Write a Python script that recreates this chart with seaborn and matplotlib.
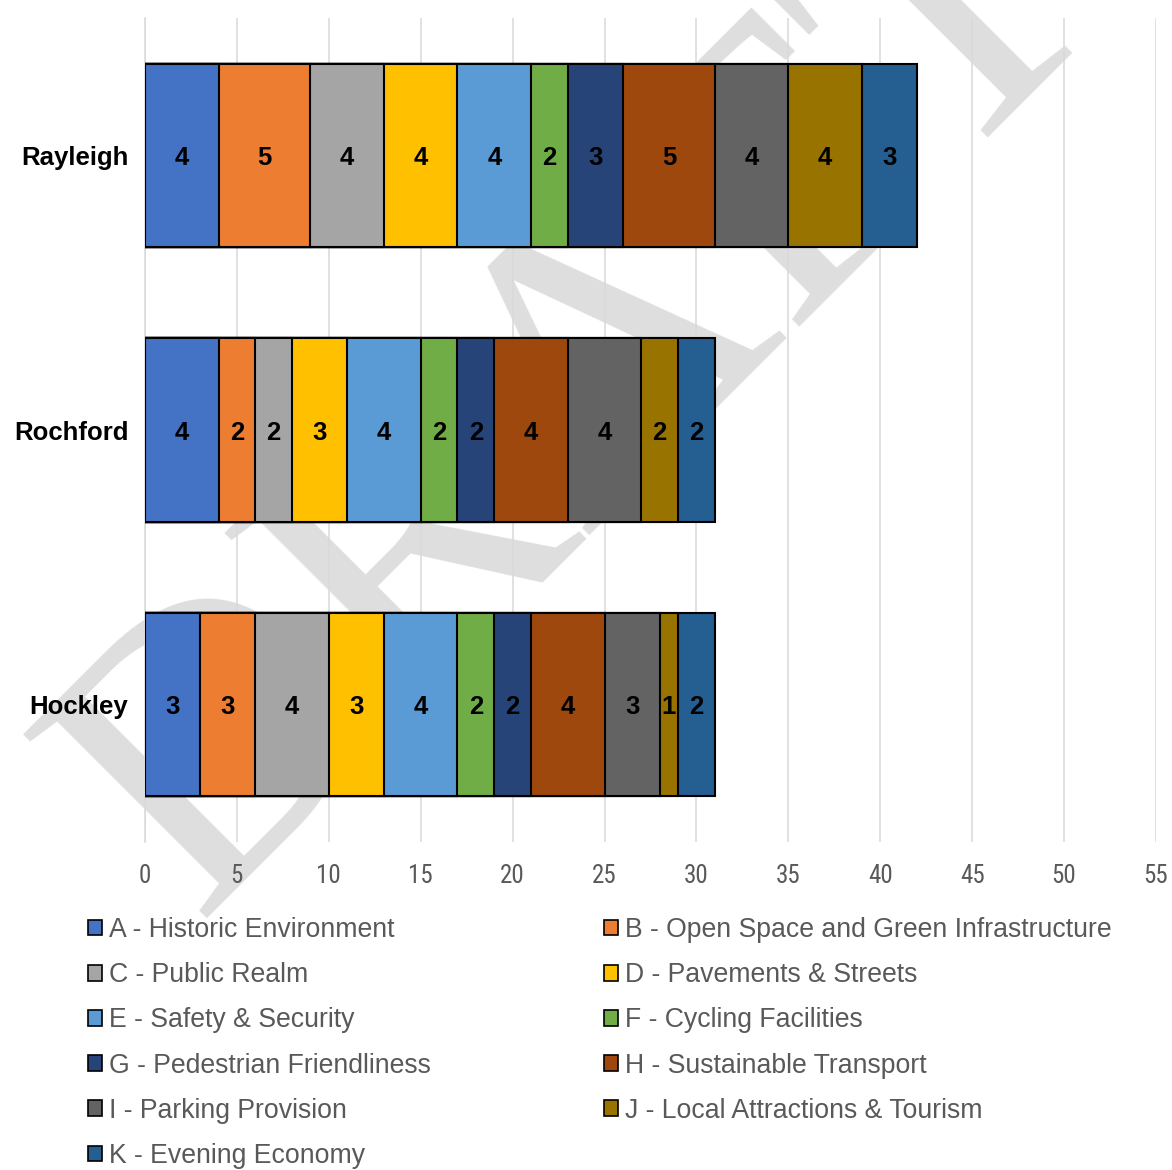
import matplotlib
matplotlib.use("Agg")
import matplotlib.pyplot as plt
import seaborn as sns
import pandas as pd
from matplotlib.patches import Patch
from matplotlib import font_manager

# Scores per town for each improvement theme
towns = ["Rayleigh", "Rochford", "Hockley"]
themes = [
    "A - Historic Environment",
    "B - Open Space and Green Infrastructure",
    "C - Public Realm",
    "D - Pavements & Streets",
    "E - Safety & Security",
    "F - Cycling Facilities",
    "G - Pedestrian Friendliness",
    "H - Sustainable Transport",
    "I - Parking Provision",
    "J - Local Attractions & Tourism",
    "K - Evening Economy",
]
rayleigh = [4, 5, 4, 4, 4, 2, 3, 5, 4, 4, 3]
rochford = [4, 2, 2, 3, 4, 2, 2, 4, 4, 2, 2]
hockley = [3, 3, 4, 3, 4, 2, 2, 4, 3, 1, 2]
theme_colors = ["#4472C4", "#ED7D31", "#A5A5A5", "#FFC000", "#5B9BD5", "#70AD47",
                "#264478", "#9E480E", "#636363", "#997300", "#255E91"]
x_ticks = [0, 5, 10, 15, 20, 25, 30, 35, 40, 45, 50, 55]

sns.set_style("white")
plt.rcParams["font.family"] = ["Liberation Sans", "DejaVu Sans"]

# Pick installed faces for the watermark and the value axis
installed = {f.name for f in font_manager.fontManager.ttflist}
serif_choice = [n for n in ["Liberation Serif", "Times New Roman", "Nimbus Roman",
                            "DejaVu Serif", "Noto Serif", "FreeSerif", "Tinos"]
                if n in installed]
mark_family = serif_choice[0] if serif_choice else "Liberation Sans"
narrow_choice = [n for n in ["Liberation Sans Narrow", "Roboto Condensed", "Open Sans Condensed"]
                 if n in installed]
tick_family = narrow_choice[0] if narrow_choice else "Liberation Sans"

scores = pd.DataFrame({"Rayleigh": rayleigh, "Rochford": rochford, "Hockley": hockley},
                      index=themes)
cumulative = scores.cumsum()

fig = plt.figure(figsize=(11.72, 11.70), dpi=100)
fig.patch.set_facecolor("white")
ax = fig.add_axes([145 / 1172, 1 - 842 / 1170, (1156 - 145) / 1172, (842 - 18) / 1170])
ax.set_facecolor("none")

# Watermark behind the chart
fig.text(588 / 1172, 1 - 392 / 1170, "DRAFT", rotation=45, rotation_mode="anchor",
         ha="center", va="center", fontsize=285, family=mark_family,
         fontweight="normal", color="#dedede", zorder=-1)

# Stacked bars: draw running totals from the longest down to the first theme
for k in range(len(themes) - 1, -1, -1):
    layer = pd.DataFrame({"town": towns, "total": [cumulative.loc[themes[k], t] for t in towns]})
    sns.barplot(data=layer, x="total", y="town", order=towns, orient="h",
                color=theme_colors[k], saturation=1, width=0.667, errorbar=None,
                edgecolor="black", linewidth=1.5, ax=ax, zorder=3)

# Value labels centred in each segment
for i, t in enumerate(towns):
    for k, th in enumerate(themes):
        v = scores.loc[th, t]
        ax.text(cumulative.loc[th, t] - v / 2, i, str(v), ha="center", va="center_baseline",
                fontsize=18.5, fontweight="bold", color="black", zorder=5)

ax.set_xlim(0, 55)
ax.set_ylim(2.5, -0.5)
ax.set_xticks(x_ticks)
ax.set_xticklabels([str(x) for x in x_ticks], fontfamily=tick_family,
                   fontsize=17 if tick_family == "Liberation Sans" else 18, color="#595959")
ax.tick_params(axis="x", length=0, pad=16)
ax.set_yticks(range(len(towns)))
ax.set_yticklabels(towns, fontsize=18.5, fontweight="bold", color="black")
ax.tick_params(axis="y", which="major", length=0, pad=12)
ax.set_yticks([-0.5, 0.5, 1.5, 2.5], minor=True)
ax.tick_params(axis="y", which="minor", length=5, width=1.1, color="#d9d9d9")
ax.set_xlabel("")
ax.set_ylabel("")

ax.grid(axis="x", color="#d9d9d9", linewidth=1.1)
ax.grid(axis="y", visible=False)
ax.set_axisbelow(True)
for side in ["top", "right", "bottom"]:
    ax.spines[side].set_visible(False)
ax.spines["left"].set_color("#d9d9d9")
ax.spines["left"].set_linewidth(1.1)

# Legend laid out row by row in two columns
handles = [Patch(facecolor=c, edgecolor="black", linewidth=1.2) for c in theme_colors]
order = [0, 2, 4, 6, 8, 10, 1, 3, 5, 7, 9]
leg = fig.legend([handles[i] for i in order], [themes[i] for i in order],
                 loc="upper left", bbox_to_anchor=(88 / 1172, 1 - 917 / 1170),
                 ncol=2, frameon=False, fontsize=19.2, handlelength=0.53, handleheight=0.53,
                 handletextpad=0.25, labelspacing=0.72, columnspacing=6.5,
                 borderaxespad=0, borderpad=0)
for txt in leg.get_texts():
    txt.set_color("#595959")

fig.savefig("out.png", dpi=100, facecolor="white")
